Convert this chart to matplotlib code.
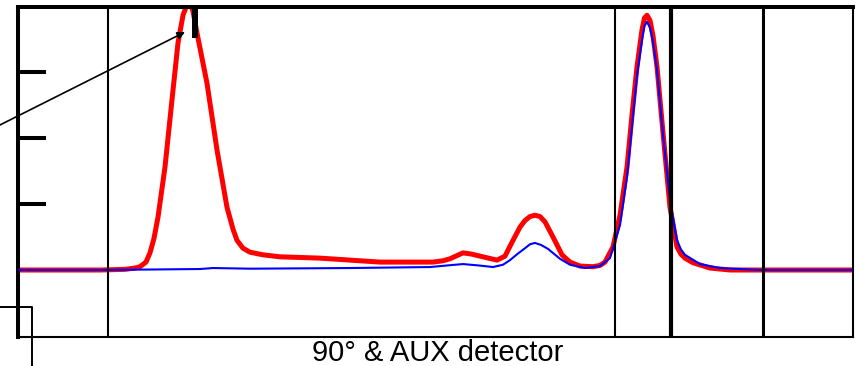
import matplotlib
matplotlib.use("Agg")
import matplotlib.pyplot as plt
from matplotlib.lines import Line2D

# light scattering trace (red) and AUX / RI trace (blue), elution volume in mL
red_x = [0.00, 0.84, 1.64, 2.14, 2.34, 2.44, 2.56, 2.64, 2.72, 2.80, 2.94, 3.08, 3.20, 3.30,
         3.38, 3.44, 3.50, 3.58, 3.78, 3.98, 4.18, 4.30, 4.38, 4.50, 4.64, 4.90, 5.24,
         6.04, 7.24, 8.30, 8.50, 8.64, 8.90, 9.08, 9.24, 9.58, 9.74, 9.90, 10.04, 10.14,
         10.24, 10.34, 10.44, 10.54, 10.70, 10.88, 11.04, 11.24, 11.50, 11.64, 11.74,
         11.90, 12.04, 12.18, 12.28, 12.38, 12.48, 12.53, 12.58, 12.64, 12.70, 12.78,
         12.90, 13.04, 13.18, 13.26, 13.34, 13.50, 13.84, 14.24, 16.70]
red_y = [0.00, 0.00, 0.00, 0.01, 0.03, 0.05, 0.12, 0.26, 0.48, 0.80, 1.56, 2.58, 3.44, 3.86,
         4.02, 4.05, 3.92, 3.59, 2.83, 1.82, 0.95, 0.62, 0.45, 0.33, 0.27, 0.23, 0.20,
         0.18, 0.12, 0.12, 0.14, 0.17, 0.26, 0.24, 0.21, 0.15, 0.21, 0.45, 0.65, 0.75,
         0.81, 0.83, 0.81, 0.73, 0.50, 0.23, 0.12, 0.06, 0.05, 0.07, 0.12,
         0.35, 0.83, 1.56, 2.35, 3.08, 3.64, 3.82, 3.86, 3.78, 3.55, 3.08,
         2.08, 0.95, 0.35, 0.24, 0.18, 0.11, 0.03, 0.00, 0.00]

blue_x = [0.00, 1.64, 3.64, 3.90, 4.64, 6.64, 8.24, 8.60, 8.90, 9.20, 9.50, 9.70, 9.84, 10.00,
          10.14, 10.24, 10.34, 10.46, 10.60, 10.84, 11.04, 11.34, 11.64, 11.84, 12.04,
          12.18, 12.38, 12.48, 12.53, 12.58, 12.64, 12.70, 12.78, 12.90, 13.04, 13.18,
          13.26, 13.34, 13.64, 14.04, 14.84, 16.70]
blue_y = [0.00, 0.00, 0.015, 0.03, 0.02, 0.03, 0.045, 0.07, 0.09, 0.07, 0.045, 0.08, 0.15,
          0.25, 0.33, 0.39, 0.41, 0.38, 0.32, 0.17, 0.08, 0.03, 0.06, 0.18, 0.68,
          1.41, 2.95, 3.48, 3.70, 3.76, 3.67, 3.45, 3.03, 2.05, 1.06, 0.45,
          0.31, 0.23, 0.09, 0.03, 0.00, 0.00]

# integration / slice limits
limit_x = [1.80, 11.94, 13.06, 14.90]
limit_w = [1.5, 1.5, 3.0, 2.2]

peak_x = 3.54
peak_mark_y = 3.515
arrow_head = (3.34, 3.606)

fig = plt.figure(figsize=(8.6, 3.66), dpi=100)
ax = fig.add_axes([18 / 860, 1 - 337 / 366, 835 / 860, 330 / 366])
ax.set_xlim(0, 16.7)
ax.set_ylim(-1.015, 3.985)

ax.plot(red_x, red_y, color="#ff0000", linewidth=3.6, solid_joinstyle="round", zorder=2)
ax.plot(blue_x, blue_y, color="#0000ff", linewidth=1.5, solid_joinstyle="round", zorder=3)

for x, w in zip(limit_x, limit_w):
    ax.axvline(x, color="black", linewidth=w, zorder=4)

ax.plot([peak_x, peak_x], [3.985, peak_mark_y], color="black", linewidth=4.3,
        solid_capstyle="butt", zorder=5)

ax.annotate("", xy=arrow_head, xycoords="data", xytext=(-20, 366 - 135),
            textcoords="figure pixels", annotation_clip=False,
            arrowprops=dict(arrowstyle="-|>", color="black", lw=1.2,
                            mutation_scale=11, shrinkA=0, shrinkB=0))

ax.set_xticks([])
ax.set_yticks([0, 1, 2, 3])
ax.set_yticklabels([])
ax.tick_params(axis="y", direction="in", length=20, width=2.9, color="black")
ax.spines["left"].set_linewidth(2.9)
ax.spines["top"].set_linewidth(2.9)
ax.spines["bottom"].set_linewidth(1.5)
ax.spines["right"].set_linewidth(1.5)

# corner bracket at bottom left
fig.add_artist(Line2D([0, 32 / 860, 32 / 860], [1 - 307 / 366, 1 - 307 / 366, 0],
                      transform=fig.transFigure, color="black", linewidth=1.4))

fig.text(438 / 860, 1 - 361 / 366, "90° & AUX detector", ha="center", va="baseline",
         fontsize=21, family=["Liberation Sans", "DejaVu Sans"])

fig.savefig("out.png", dpi=100)
